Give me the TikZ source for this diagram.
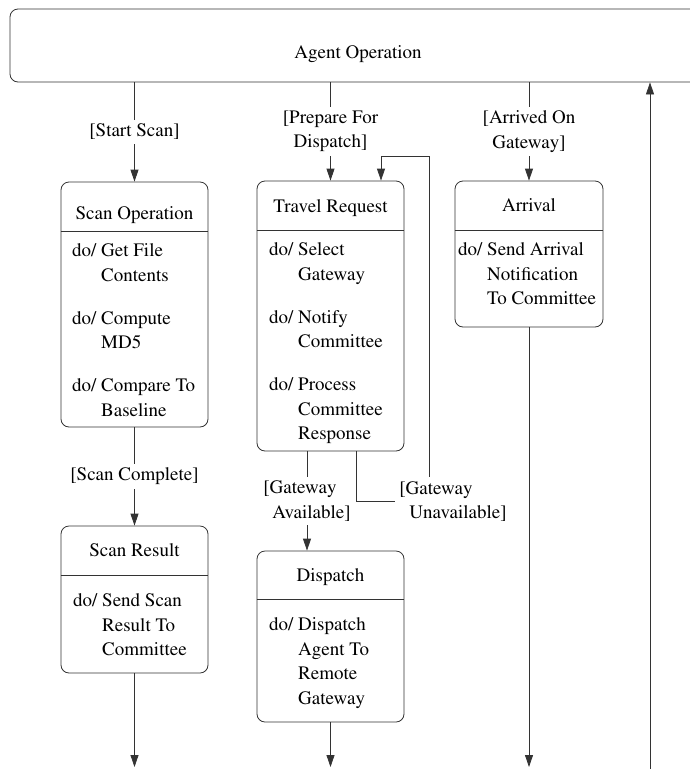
\documentclass[tikz,border=0pt]{standalone}
\usepackage[T1]{fontenc}
\usepackage{mathptmx}
\usetikzlibrary{arrows.meta}

\begin{document}
\begin{tikzpicture}[
    x=1pt, y=-1pt,
    every node/.style={font=\fontsize{19}{24.5}\selectfont, inner sep=0pt},
    wire/.style={draw=black!80, line width=0.8pt},
    statebox/.style={wire, rectangle, rounded corners=8pt},
    stitle/.style={anchor=base},
    sbody/.style={anchor=base west},
    guard/.style={fill=white, inner sep=4pt},
    arrow/.style={wire, -{Triangle[length=12pt,width=8pt]}}
  ]
  \useasboundingbox (0,0) rectangle (690,769);

  % Nodes
  \node (agent) [statebox, minimum width=695pt, minimum height=73pt] at (357.5,45.5) {};
  \node (agenttitle) [stitle] at (358,58) {Agent Operation};

  \node (scanop) [statebox, minimum width=147pt, minimum height=245pt] at (134.5,304.5) {};
  \node (scanoptitle) [stitle] at (134.5,219) {Scan Operation};
  \draw [wire] (scanop.west |- 0,231) -- (scanop.east |- 0,231);
  \node (scanopbody) [sbody] at (72,256.5) {\begin{tabular}[t]{@{}l@{\ }l@{}}
      do/ & Get File\\ & Contents\\[18.5pt]
      do/ & Compute\\ & MD5\\[18.5pt]
      do/ & Compare To\\ & Baseline
    \end{tabular}};

  \node (trvl) [statebox, minimum width=147pt, minimum height=270pt] at (330.5,316) {};
  \node (trvltitle) [stitle] at (330.5,212) {Travel Request};
  \draw [wire] (trvl.west |- 0,230) -- (trvl.east |- 0,230);
  \node (trvlbody) [sbody] at (269,255.5) {\begin{tabular}[t]{@{}l@{\ }l@{}}
      do/ & Select\\ & Gateway\\[18.5pt]
      do/ & Notify\\ & Committee\\[18.5pt]
      do/ & Process\\ & Committee\\ & Response
    \end{tabular}};

  \node (arrival) [statebox, minimum width=148pt, minimum height=146pt] at (529,254) {};
  \node (arrivaltitle) [stitle] at (529,211.5) {Arrival};
  \draw [wire] (arrival.west |- 0,230) -- (arrival.east |- 0,230);
  \node (arrivalbody) [sbody] at (458,255.5) {\begin{tabular}[t]{@{}l@{\ }l@{}}
      do/ & Send Arrival\\ & Notification\\ & To Committee
    \end{tabular}};

  \node (scanres) [statebox, minimum width=147pt, minimum height=147pt] at (134.5,599.5) {};
  \node (scanrestitle) [stitle] at (134.5,556.5) {Scan Result};
  \draw [wire] (scanres.west |- 0,575) -- (scanres.east |- 0,575);
  \node (scanresbody) [sbody] at (73,606.5) {\begin{tabular}[t]{@{}l@{\ }l@{}}
      do/ & Send Scan\\ & Result To\\ & Committee
    \end{tabular}};

  \node (dispatch) [statebox, minimum width=147pt, minimum height=171pt] at (330.5,636.5) {};
  \node (dispatchtitle) [stitle] at (330.5,581) {Dispatch};
  \draw [wire] (dispatch.west |- 0,599) -- (dispatch.east |- 0,599);
  \node (dispatchbody) [sbody] at (269,630.5) {\begin{tabular}[t]{@{}l@{\ }l@{}}
      do/ & Dispatch\\ & Agent To\\ & Remote\\ & Gateway
    \end{tabular}};

  \coordinate (loopcorner) at (429,501);
  \coordinate (bottom) at (0,767);
  \coordinate (retstart) at (650,769);

  % Arrows
  \draw [arrow] (agent.south -| scanop.north) -- node [guard] {[Start Scan]} (scanop.north);
  \draw [arrow] (agent.south -| trvl.north) -- node [guard, align=center] {[Prepare For\\Dispatch]} (trvl.north);
  \draw [arrow] (agent.south -| arrival.north) -- node [guard, align=center] {[Arrived On\\Gateway]} (arrival.north);
  \draw [arrow] (scanop.south) -- node [guard] {[Scan Complete]} (scanres.north);
  \draw [arrow] ([xshift=-23.5pt]trvl.south) -- node [guard, align=left] {[Gateway\\\hspace*{9pt}Available]} ([xshift=-23.5pt]dispatch.north);
  \draw [arrow] ([xshift=25.5pt]trvl.south) |- (loopcorner) -- (loopcorner |- 0,156) -| ([xshift=50.5pt]trvl.north);
  \node (unavail) [guard, align=left] at (453,501.5) {[Gateway\\\hspace*{10pt}Unavailable]};

  \draw [arrow] (scanres.south) -- (scanres.south |- bottom);
  \draw [arrow] (dispatch.south) -- (dispatch.south |- bottom);
  \draw [arrow] (arrival.south) -- (arrival.south |- bottom);
  \draw [arrow] (retstart) -- (retstart |- agent.south);
\end{tikzpicture}
\end{document}
